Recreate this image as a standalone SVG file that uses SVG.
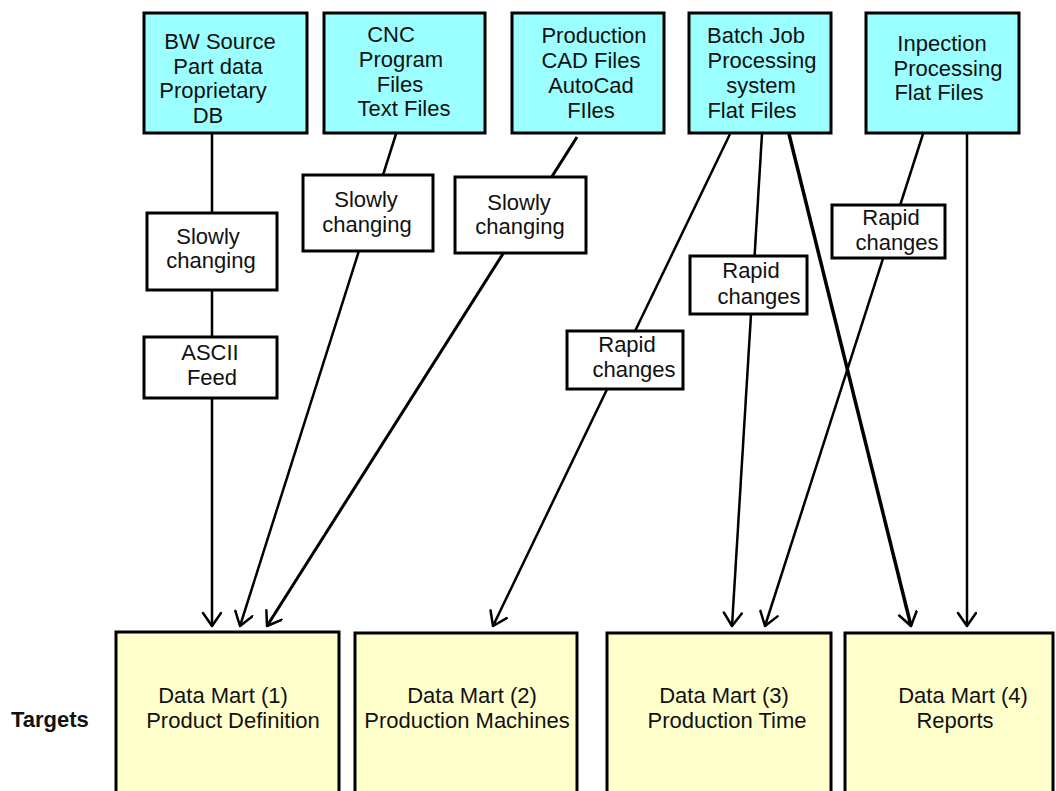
<svg xmlns="http://www.w3.org/2000/svg" width="1056" height="791" viewBox="0 0 1056 791">
  <defs>
    <style>
      text { font-family: "Liberation Sans", Arial, sans-serif; font-size: 22px; fill: #111; text-anchor: middle; }
      .src { fill: #9BFFFF; stroke: #000; stroke-width: 3; }
      .lbl { fill: #FFFFFF; stroke: #000; stroke-width: 3; }
      .dm { fill: #FFFFCC; stroke: #000; stroke-width: 3; }
      .wire { stroke: #000; stroke-width: 2.5; fill: none; marker-end: url(#arrow); }
      .heading { font-weight: bold; font-size: 22px; text-anchor: start; }
    </style>
    <marker id="arrow" markerUnits="userSpaceOnUse" markerWidth="18" markerHeight="22" refX="15" refY="10" orient="auto">
      <path d="M2,1 L15,10 L2,19" fill="none" stroke="#000" stroke-width="2.5" stroke-linecap="round" stroke-linejoin="round"/>
    </marker>
  </defs>

  <rect width="1056" height="791" fill="#FFFFFF"/>

  <!-- flows from sources to data marts -->
  <g id="connectors">
    <line class="wire" x1="212" y1="134" x2="212" y2="626"/>
    <line class="wire" x1="396" y1="134" x2="240" y2="626"/>
    <line class="wire" x1="577" y1="137" x2="267" y2="626" style="stroke-width:3"/>
    <line class="wire" x1="730" y1="134" x2="493" y2="626"/>
    <line class="wire" x1="762" y1="134" x2="732" y2="626"/>
    <line class="wire" x1="789" y1="134" x2="911" y2="626" style="stroke-width:3.5"/>
    <line class="wire" x1="923" y1="134" x2="765" y2="626"/>
    <line class="wire" x1="967" y1="134" x2="967" y2="626"/>
  </g>

  <!-- sources -->
  <g id="src-bw">
    <rect class="src" x="144" y="13" width="163" height="120"/>
    <text x="220" y="49">BW Source</text>
    <text x="218" y="74">Part data</text>
    <text x="213" y="98">Proprietary</text>
    <text x="208" y="123">DB</text>
  </g>
  <g id="src-cnc">
    <rect class="src" x="324" y="13" width="161" height="120"/>
    <text x="391" y="42">CNC</text>
    <text x="401" y="67">Program</text>
    <text x="400" y="92">Files</text>
    <text x="404" y="116">Text Files</text>
  </g>
  <g id="src-cad">
    <rect class="src" x="512" y="13" width="152" height="120"/>
    <text x="594" y="43">Production</text>
    <text x="591" y="68">CAD Files</text>
    <text x="591" y="93">AutoCad</text>
    <text x="591" y="118">FIles</text>
  </g>
  <g id="src-batch">
    <rect class="src" x="689" y="13" width="142" height="120"/>
    <text x="756" y="43">Batch Job</text>
    <text x="762" y="68">Processing</text>
    <text x="761" y="93">system</text>
    <text x="752" y="118">Flat Files</text>
  </g>
  <g id="src-inspection">
    <rect class="src" x="866" y="13" width="153" height="120"/>
    <text x="942" y="51">Inpection</text>
    <text x="948" y="76">Processing</text>
    <text x="939" y="100">Flat Files</text>
  </g>

  <!-- flow labels -->
  <g id="lbl-slow-1">
    <rect class="lbl" x="147" y="213" width="130" height="77"/>
    <text x="208" y="244">Slowly</text>
    <text x="211" y="268">changing</text>
  </g>
  <g id="lbl-ascii">
    <rect class="lbl" x="144" y="337" width="133" height="61"/>
    <text x="210" y="360">ASCII</text>
    <text x="212" y="385">Feed</text>
  </g>
  <g id="lbl-slow-2">
    <rect class="lbl" x="303" y="175" width="130" height="76"/>
    <text x="366" y="207">Slowly</text>
    <text x="367" y="232">changing</text>
  </g>
  <g id="lbl-slow-3">
    <rect class="lbl" x="455" y="177" width="131" height="76"/>
    <text x="519" y="210">Slowly</text>
    <text x="520" y="234">changing</text>
  </g>
  <g id="lbl-rapid-1">
    <rect class="lbl" x="567" y="331" width="116" height="58"/>
    <text x="627" y="352">Rapid</text>
    <text x="634" y="377">changes</text>
  </g>
  <g id="lbl-rapid-2">
    <rect class="lbl" x="690" y="256" width="117" height="58"/>
    <text x="751" y="278">Rapid</text>
    <text x="759" y="304">changes</text>
  </g>
  <g id="lbl-rapid-3">
    <rect class="lbl" x="832" y="205" width="113" height="53"/>
    <text x="891" y="225">Rapid</text>
    <text x="897" y="250">changes</text>
  </g>

  <!-- targets -->
  <text class="heading" x="11" y="727">Targets</text>
  <g id="dm-1">
    <rect class="dm" x="116" y="632" width="223" height="170"/>
    <text x="223" y="703">Data Mart (1)</text>
    <text x="233" y="728">Product Definition</text>
  </g>
  <g id="dm-2">
    <rect class="dm" x="355" y="633" width="222" height="170"/>
    <text x="472" y="703">Data Mart (2)</text>
    <text x="467" y="728">Production Machines</text>
  </g>
  <g id="dm-3">
    <rect class="dm" x="607" y="633" width="224" height="170"/>
    <text x="724" y="703">Data Mart (3)</text>
    <text x="727" y="728">Production Time</text>
  </g>
  <g id="dm-4">
    <rect class="dm" x="845" y="633" width="208" height="170"/>
    <text x="963" y="703">Data Mart (4)</text>
    <text x="955" y="728">Reports</text>
  </g>
</svg>
